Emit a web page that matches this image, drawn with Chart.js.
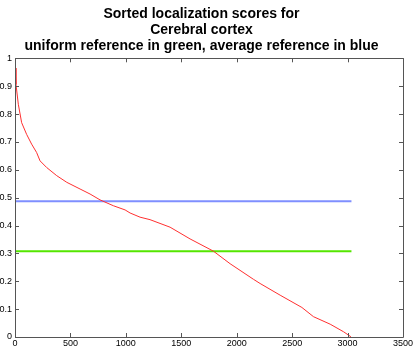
<!DOCTYPE html>
<html>
<head>
<meta charset="utf-8">
<script src="https://cdn.jsdelivr.net/npm/chart.js@4/dist/chart.umd.min.js"></script>
<style>
  html, body { margin: 0; padding: 0; background: #fff; }
  #wrap { width: 415px; height: 348px; }
</style>
</head>
<body>
<div id="wrap"><canvas id="scores"></canvas></div>
<script>
"use strict";

// Sorted localization scores (sample index, score)
const scoreX = [0, 9, 30, 60, 105, 150, 195, 226, 286, 376, 467, 587, 677, 767, 887, 993, 1038, 1128, 1218, 1399, 1579, 1790, 1940, 2151, 2211, 2392, 2588, 2692, 2843, 2963, 3030];
const scoreY = [0.965, 0.906, 0.835, 0.769, 0.727, 0.692, 0.662, 0.632, 0.608, 0.579, 0.555, 0.531, 0.513, 0.492, 0.471, 0.456, 0.445, 0.43, 0.421, 0.394, 0.352, 0.308, 0.263, 0.207, 0.192, 0.15, 0.106, 0.073, 0.046, 0.019, 0.001];

// Reference levels, drawn across the same range as the scores
const refX = [0, 3035];
const uniformRef = 0.308;
const averageRef = 0.487;

const xTicks = [0, 500, 1000, 1500, 2000, 2500, 3000, 3500];
const yTicks = [0, 0.1, 0.2, 0.3, 0.4, 0.5, 0.6, 0.7, 0.8, 0.9, 1];

const titleLines = [
  "Sorted localization scores for",
  "Cerebral cortex",
  "uniform reference in green, average reference in blue"
];

/**
 * Turns two arrays into {x, y} points.
 */
function toPoints(xs, ys) {
  return xs.map((x, i) => ({ x: x, y: ys[i] }));
}

/**
 * Draws the MATLAB style box with inward ticks on all four sides.
 */
const boxPlugin = {
  id: "box",
  afterDatasetsDraw(chart) {
    const ctx = chart.ctx;
    const area = chart.chartArea;
    const xs = chart.scales.x;
    const ys = chart.scales.y;
    const len = 4;
    ctx.save();
    ctx.strokeStyle = "#555";
    ctx.lineWidth = 1;
    ctx.beginPath();
    ctx.rect(Math.round(area.left) + 0.5, Math.round(area.top) + 0.5,
      Math.round(area.right - area.left), Math.round(area.bottom - area.top));
    xTicks.forEach((t) => {
      const px = Math.round(xs.getPixelForValue(t)) + 0.5;
      ctx.moveTo(px, area.bottom);
      ctx.lineTo(px, area.bottom - len);
      ctx.moveTo(px, area.top);
      ctx.lineTo(px, area.top + len);
    });
    yTicks.forEach((t) => {
      const py = Math.round(ys.getPixelForValue(t)) + 0.5;
      ctx.moveTo(area.left, py);
      ctx.lineTo(area.left + len, py);
      ctx.moveTo(area.right, py);
      ctx.lineTo(area.right - len, py);
    });
    ctx.stroke();
    ctx.restore();
  }
};

function createChart() {
  const canvas = document.querySelector("#scores");

  new Chart(canvas, {
    type: "line",
    data: {
      datasets: [
        {
          label: "scores",
          data: toPoints(scoreX, scoreY),
          borderColor: "#ff3030",
          borderWidth: 1,
          pointRadius: 0,
          tension: 0
        },
        {
          label: "average reference",
          data: toPoints(refX, [averageRef, averageRef]),
          borderColor: "#7f8fff",
          borderWidth: 2,
          pointRadius: 0
        },
        {
          label: "uniform reference",
          data: toPoints(refX, [uniformRef, uniformRef]),
          borderColor: "#55e600",
          borderWidth: 2,
          pointRadius: 0
        }
      ]
    },
    options: {
      responsive: true,
      maintainAspectRatio: false,
      animation: false,
      layout: { padding: { left: 0, right: 12, top: 0, bottom: 0 } },
      plugins: {
        legend: { display: false },
        tooltip: { enabled: false },
        title: {
          display: true,
          text: titleLines,
          color: "#000",
          font: { family: "Liberation Sans", size: 14, weight: "bold", lineHeight: 1.15 },
          padding: { top: 6, bottom: 4 }
        }
      },
      scales: {
        x: {
          type: "linear",
          min: 0,
          max: 3500,
          afterBuildTicks: (scale) => { scale.ticks = xTicks.map((v) => ({ value: v })); },
          afterFit: (scale) => { scale.height = 11; },
          grid: { display: false, drawTicks: false },
          border: { display: false },
          ticks: {
            color: "#000",
            padding: 1,
            maxRotation: 0,
            autoSkip: false,
            font: { family: "Liberation Sans", size: 9 },
            callback: (v) => String(v)
          }
        },
        y: {
          type: "linear",
          min: 0,
          max: 1,
          afterBuildTicks: (scale) => { scale.ticks = yTicks.map((v) => ({ value: v })); },
          afterFit: (scale) => { scale.width = 15; },
          grid: { display: false, drawTicks: false },
          border: { display: false },
          ticks: {
            color: "#000",
            padding: 3,
            autoSkip: false,
            font: { family: "Liberation Sans", size: 9 },
            callback: (v) => String(Math.round(v * 10) / 10)
          }
        }
      }
    },
    plugins: [boxPlugin]
  });
}

createChart();
</script>
</body>
</html>
